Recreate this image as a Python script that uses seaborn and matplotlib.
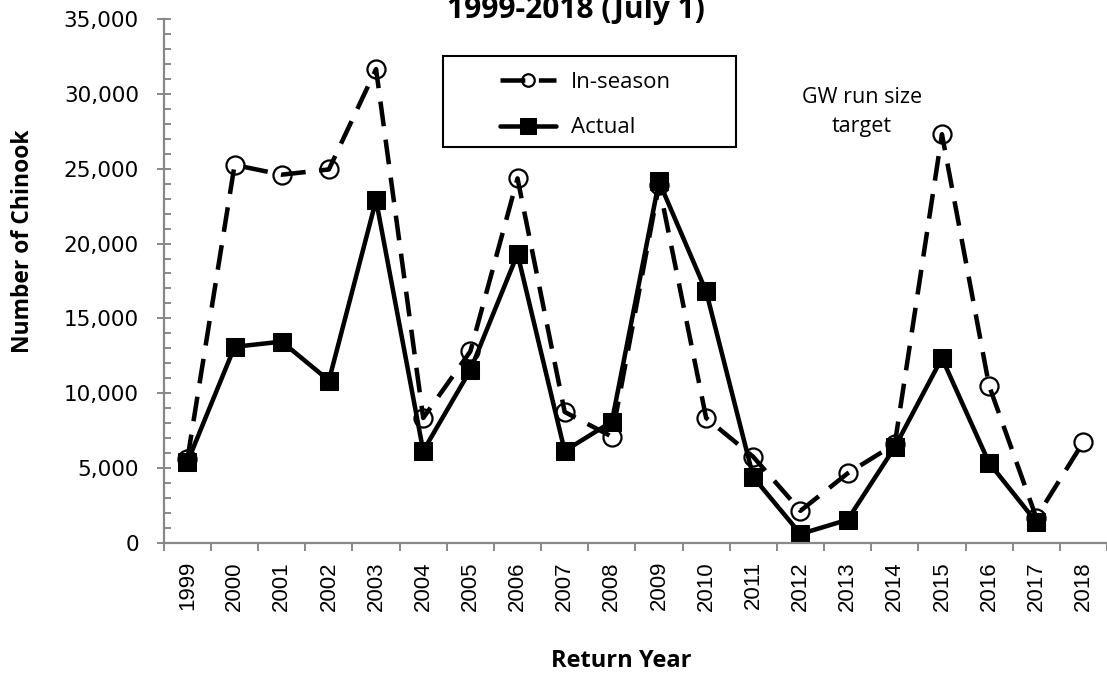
"""
Chinook run size: in-season estimate vs actual, 1999-2018.
"""

import matplotlib
matplotlib.use("Agg")
import matplotlib.pyplot as plt
import matplotlib.patches as mpatches
from matplotlib.ticker import FuncFormatter, MultipleLocator
import numpy as np
import pandas as pd
import seaborn as sns

# ─── Data ────────────────────────────────────────────────────────────────────
years = [str(y) for y in range(1999, 2019)]
in_season = [5600, 25250, 24600, 24950, 31650, 8350, 12800, 24350, 8750, 7100,
             23900, 8350, 5750, 2150, 4650, 6600, 27300, 10500, 1700, 6750]
actual = [5400, 13100, 13450, 10850, 22900, 6150, 11550, 19300, 6150, 8100,
          24150, 16800, 4400, 600, 1550, 6400, 12350, 5350, 1400, np.nan]

df = pd.DataFrame({"year": years, "In-season": in_season, "Actual": actual})
df["pos"] = np.arange(len(years))

AXIS_GREY = "#888888"
DASH = (0, (5.5, 3))

sns.set_theme(style="white")
plt.rcParams["font.family"] = ["Liberation Sans", "DejaVu Sans"]
plt.rcParams["text.color"] = "black"
plt.rcParams["axes.labelcolor"] = "black"

fig = plt.figure(figsize=(11.07, 6.75), dpi=100)
ax = fig.add_axes([0.148, 0.1956, 0.852, 0.7763])

sns.lineplot(data=df, x="pos", y="In-season", ax=ax, color="black",
             linewidth=3.25, label="In-season",
             marker="o", markersize=13, markerfacecolor="none",
             markeredgecolor="black", markeredgewidth=1.6)
ax.lines[-1].set_linestyle(DASH)
sns.lineplot(data=df.dropna(), x="pos", y="Actual", ax=ax, color="black",
             linewidth=3.25, label="Actual",
             marker="s", markersize=13, markerfacecolor="black",
             markeredgecolor="black")

ax.set_xlim(-0.5, len(years) - 0.5)
ax.set_ylim(0, 35000)

# category axis: labels at centres, ticks at boundaries
ax.set_xticks(df["pos"])
ax.set_xticklabels(years, rotation=90)
ax.set_xticks(np.arange(-0.5, len(years)), minor=True)
ax.tick_params(axis="x", which="major", length=0, pad=13,
               labelsize=16, labelcolor="black")
ax.tick_params(axis="x", which="minor", length=6, width=1.4,
               color=AXIS_GREY, direction="out", bottom=True)

ax.yaxis.set_major_locator(MultipleLocator(5000))
ax.yaxis.set_minor_locator(MultipleLocator(1000))
ax.yaxis.set_major_formatter(FuncFormatter(lambda v, p: f"{int(v):,}"))
ax.tick_params(axis="y", which="major", length=10, width=1.4,
               color=AXIS_GREY, direction="inout", labelsize=15.5,
               labelcolor="black", pad=13, left=True)
ax.tick_params(axis="y", which="minor", length=5, width=1.4,
               color=AXIS_GREY, direction="in", left=True)
for lbl in ax.get_yticklabels():
    lbl.set_family("DejaVu Sans")

for side in ["top", "right"]:
    ax.spines[side].set_visible(False)
for side in ["left", "bottom"]:
    ax.spines[side].set_color(AXIS_GREY)
    ax.spines[side].set_linewidth(1.6)

ax.set_xlabel("Return Year", fontsize=17, fontweight="bold",
              family="Open Sans", va="center")
ax.xaxis.set_label_coords(0.4846, -0.2252)
ax.set_ylabel("Number of Chinook", fontsize=16.5, fontweight="bold",
              family="Open Sans", va="center")
ax.yaxis.set_label_coords(-0.1495, 0.576)

# legend without frame, box drawn separately (it is wider than the entries)
leg = ax.legend(loc="upper left", bbox_to_anchor=(0.3563, 0.899),
                frameon=False, prop={"family": "Open Sans", "size": 16},
                handlelength=2.53, handletextpad=0.65, borderpad=0,
                labelspacing=1.1, borderaxespad=0)
h_in, h_act = leg.legend_handles
h_in.set_linestyle(DASH)
h_in.set_markersize(9)
h_act.set_markersize(11)
ax.add_patch(mpatches.Rectangle((0.2959, 0.7557), 0.3107, 0.1737,
                                transform=ax.transAxes, fill=False,
                                edgecolor="black", linewidth=1.5,
                                zorder=5))

ax.text(0.740, 0.8225, "GW run size\ntarget", transform=ax.transAxes,
        ha="center", va="center", fontsize=15.5, family="Open Sans",
        linespacing=1.5)

fig.text(0.520, 0.9733, "1999-2018 (July 1)", ha="center", va="baseline",
         fontsize=21.5, fontweight="bold", family="Open Sans")

fig.savefig("out.png", dpi=100)
